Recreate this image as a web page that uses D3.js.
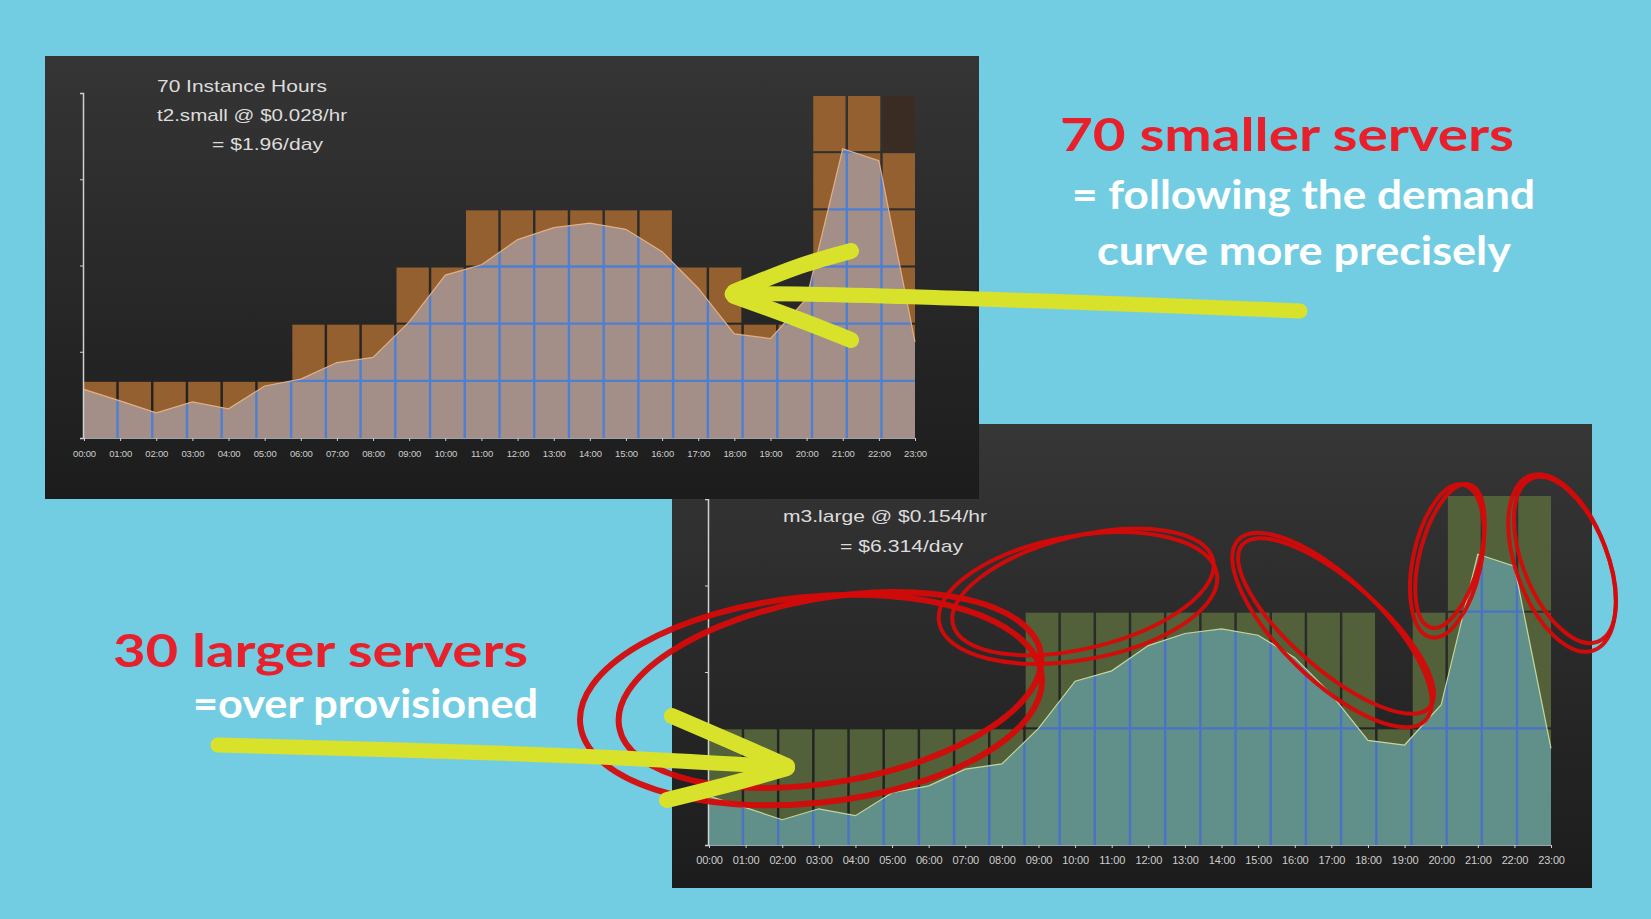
<!DOCTYPE html>
<html>
<head>
<meta charset="utf-8">
<script src="https://cdn.jsdelivr.net/npm/d3@7/dist/d3.min.js"></script>
<style>
  html, body { margin: 0; padding: 0; background: #73cde2; }
  svg { display: block; }
</style>
</head>
<body>
<svg id="chart" width="1651" height="919"></svg>
<script>
// ---------------- DATA ----------------
const hours = ["00:00","01:00","02:00","03:00","04:00","05:00","06:00","07:00","08:00","09:00","10:00","11:00",
               "12:00","13:00","14:00","15:00","16:00","17:00","18:00","19:00","20:00","21:00","22:00","23:00"];
// demand curve, in t2.small-instance units
const demand = [0.85, 0.65, 0.44, 0.63, 0.51, 0.91, 1.03, 1.32, 1.41, 2.03, 2.85, 3.03,
                3.47, 3.68, 3.76, 3.65, 3.26, 2.62, 1.82, 1.74, 2.44, 5.06, 4.85, 1.68];
// provisioned t2.small instances per hour (70 instance hours)
const smallInstances = [1,1,1,1,1,1,2,2,2,3,3,4,4,4,4,4,4,3,3,2,2,6,6,6];
// provisioned m3.large instances per hour (41 instance hours)
const largeInstances = [1,1,1,1,1,1,1,1,1,2,2,2,2,2,2,2,2,2,2,1,2,3,3,3];
const smallPerLarge = 2.03;   // capacity of one m3.large in t2.small units

const topTexts = ["70 Instance Hours", "t2.small @ $0.028/hr", "= $1.96/day"];
const bottomTexts = ["m3.large @ $0.154/hr", "= $6.314/day"];
const calloutTop = ["70 smaller servers", "= following the demand", "curve more precisely"];
const calloutBottom = ["30 larger servers", "=over provisioned"];

// ---------------- DRAW ----------------
const svg = d3.select("#chart");
const defs = svg.append("defs");

function grad(id, c0, c1) {
  const g = defs.append("linearGradient").attr("id", id).attr("x1", 0).attr("y1", 0).attr("x2", 0).attr("y2", 1);
  g.append("stop").attr("offset", "0%").attr("stop-color", c0);
  g.append("stop").attr("offset", "100%").attr("stop-color", c1);
}
grad("gTop", "#353535", "#1c1c1c");
grad("gBot", "#373637", "#1c1c1c");

function drawChart(cfg) {
  const g = svg.append("g");
  g.append("rect").attr("x", cfg.panel[0]).attr("y", cfg.panel[1])
    .attr("width", cfg.panel[2]).attr("height", cfg.panel[3]).attr("fill", cfg.panelFill);

  const xBand = d3.scaleBand().domain(hours).range(cfg.xRange).paddingInner(0.07).paddingOuter(0);
  const xPoint = d3.scalePoint().domain(hours).range(cfg.xRange);
  const y = d3.scaleLinear().domain([0, cfg.unitMax]).range([cfg.base, cfg.top]);
  const gap = xBand.step() - xBand.bandwidth();

  // stacked instance cells
  const cells = [];
  cfg.instances.forEach((n, i) => {
    for (let k = 0; k < n; k++) cells.push({h: hours[i], k, last: (i === hours.length - 1 && k === n - 1)});
  });
  g.append("g").selectAll("rect").data(cells).join("rect")
    .attr("x", d => xBand(d.h))
    .attr("width", xBand.bandwidth())
    .attr("y", d => y((d.k + 1) * cfg.cap) + 1)
    .attr("height", d => y(d.k * cfg.cap) - y((d.k + 1) * cfg.cap) - 2)
    .attr("fill", d => (cfg.darkLast && d.last) ? cfg.darkLast : cfg.barFill);

  // demand area
  const area = d3.area().x((d, i) => xPoint(hours[i])).y0(y(0)).y1(d => y(d));
  const line = d3.line().x((d, i) => xPoint(hours[i])).y(d => y(d));
  const clipId = cfg.id + "clip";
  defs.append("clipPath").attr("id", clipId).append("path").attr("d", area(demand));
  g.append("path").attr("d", area(demand)).attr("fill", cfg.areaFill);

  // blue grid visible within the area
  const grid = g.append("g").attr("clip-path", `url(#${clipId})`)
    .attr("stroke", cfg.gridColor).attr("stroke-width", 2.4);
  grid.selectAll("line.v").data(hours.slice(1)).join("line").attr("class", "v")
    .attr("x1", d => xBand(d) - gap / 2).attr("x2", d => xBand(d) - gap / 2)
    .attr("y1", cfg.top - 10).attr("y2", cfg.base);
  const levels = d3.range(1, Math.floor(cfg.unitMax / cfg.cap) + 1);
  grid.selectAll("line.h").data(levels).join("line").attr("class", "h")
    .attr("x1", cfg.xRange[0]).attr("x2", cfg.xRange[1])
    .attr("y1", d => y(d * cfg.cap)).attr("y2", d => y(d * cfg.cap));

  g.append("path").attr("d", line(demand)).attr("fill", "none")
    .attr("stroke", cfg.edgeColor).attr("stroke-width", 1.2).attr("opacity", 0.85);

  // x axis
  const xAxis = g.append("g").attr("transform", `translate(0,${cfg.base})`)
    .call(d3.axisBottom(xPoint).tickSize(3).tickSizeOuter(0).tickPadding(cfg.tickPad));
  xAxis.select(".domain").attr("stroke", "#9aa4b4").attr("stroke-width", 1);
  xAxis.selectAll(".tick line").attr("stroke", "#cfcfcf");
  xAxis.selectAll("text").attr("fill", "#cdcdcd").style("font-family", "Liberation Sans, Arial, sans-serif")
    .style("font-size", cfg.labelSize + "px").style("letter-spacing", "-0.2px");

  // y axis (unlabelled quarters)
  const yAx = d3.scaleLinear().domain([0, 4]).range([cfg.base, cfg.axisTop]);
  const yAxis = g.append("g").attr("transform", `translate(${cfg.axisX},0)`)
    .call(d3.axisLeft(yAx).ticks(4).tickSize(3).tickSizeOuter(3).tickFormat(""));
  yAxis.select(".domain").attr("stroke", "#d0d0d0").attr("stroke-width", 1.5);
  yAxis.selectAll(".tick line").attr("stroke", "#d0d0d0");

  // notes
  g.append("g").selectAll("text").data(cfg.notes).join("text")
    .attr("x", d => d.x).attr("y", d => d.y).text(d => d.t)
    .attr("textLength", d => d.w).attr("lengthAdjust", "spacingAndGlyphs")
    .attr("fill", "#dcdcdc").style("font-family", "Liberation Sans, Arial, sans-serif").style("font-size", "17px");
  return g;
}

// bottom (m3.large) chart first; top chart overlaps it
drawChart({
  id: "bot", panel: [672, 424, 920, 464], panelFill: "url(#gBot)",
  xRange: [709, 1551], base: 845, top: 495, unitMax: 3 * smallPerLarge, cap: smallPerLarge,
  instances: largeInstances, barFill: "#53613a", areaFill: "#61908a", gridColor: "#4a72c6",
  edgeColor: "#d8e6a6", tickPad: 8, labelSize: 11, axisX: 708, axisTop: 499,
  notes: [{t: bottomTexts[0], x: 783, y: 522, w: 204}, {t: bottomTexts[1], x: 840, y: 552, w: 123}]
});

drawChart({
  id: "top", panel: [45, 56, 934, 443], panelFill: "url(#gTop)",
  xRange: [84, 915], base: 438, top: 95, unitMax: 6, cap: 1,
  instances: smallInstances, barFill: "#94602f", darkLast: "#3a2c22", areaFill: "#a38f87", gridColor: "#4d7fd2",
  edgeColor: "#f0b98a", tickPad: 9, labelSize: 9.5, axisX: 83, axisTop: 93,
  notes: [{t: topTexts[0], x: 157, y: 92, w: 170}, {t: topTexts[1], x: 157, y: 121, w: 190},
          {t: topTexts[2], x: 212, y: 150, w: 111}]
});

// ---------------- CALLOUTS ----------------
const callouts = [
  {t: calloutTop[0], x: 1060, y: 151, w: 454, size: 45, fill: "#e8202b"},
  {t: calloutTop[1], x: 1072, y: 209, w: 463, size: 40, fill: "#ffffff"},
  {t: calloutTop[2], x: 1097, y: 265, w: 414, size: 40, fill: "#ffffff"},
  {t: calloutBottom[0], x: 113, y: 667, w: 415, size: 45, fill: "#e8202b"},
  {t: calloutBottom[1], x: 193, y: 718, w: 345, size: 40, fill: "#ffffff"}
];
svg.append("g").selectAll("text").data(callouts).join("text")
  .attr("x", d => d.x).attr("y", d => d.y).text(d => d.t)
  .attr("textLength", d => d.w).attr("lengthAdjust", "spacingAndGlyphs")
  .attr("fill", d => d.fill).style("font-family", "Lato, 'Noto Sans', sans-serif")
  .style("font-weight", 700).style("font-size", d => d.size + "px");

// red hand-drawn loops
const loops = [
  [811, 700, 232, 103, -6], [830, 690, 214, 92, -10],
  [1078, 598, 141, 62, -10], [1083, 592, 134, 56, -14],
  [1332, 630, 130, 50, 44], [1336, 626, 124, 44, 41],
  [1447, 561, 34, 78, 12], [1450, 556, 30, 74, 15],
  [1562, 563, 46, 93, -20], [1565, 560, 42, 88, -22]
];
svg.append("g").selectAll("ellipse").data(loops).join("ellipse")
  .attr("cx", 0).attr("cy", 0).attr("rx", d => d[2]).attr("ry", d => d[3])
  .attr("transform", d => `translate(${d[0]},${d[1]}) rotate(${d[4]})`)
  .attr("fill", "none").attr("stroke", "#d60a0a")
  .attr("stroke-width", (d, i) => i < 2 ? 6 : 4).attr("opacity", 0.95);

// yellow arrows
const strokes = [
  {pts: [[1300,311],[1150,305],[950,298],[800,294],[732,294]], w: 15},
  {pts: [[851,251],[800,266],[734,292]], w: 16},
  {pts: [[851,340],[800,320],[734,296]], w: 16},
  {pts: [[218,745],[400,750],[600,757],[785,767]], w: 15},
  {pts: [[672,716],[730,741],[787,766]], w: 16},
  {pts: [[667,800],[730,784],[787,768]], w: 16}
];
const sl = d3.line().curve(d3.curveCatmullRom);
svg.append("g").selectAll("path").data(strokes).join("path")
  .attr("d", d => sl(d.pts)).attr("fill", "none").attr("stroke", "#d9e22b")
  .attr("stroke-width", d => d.w).attr("stroke-linecap", "round").attr("stroke-linejoin", "round");
</script>
</body>
</html>
